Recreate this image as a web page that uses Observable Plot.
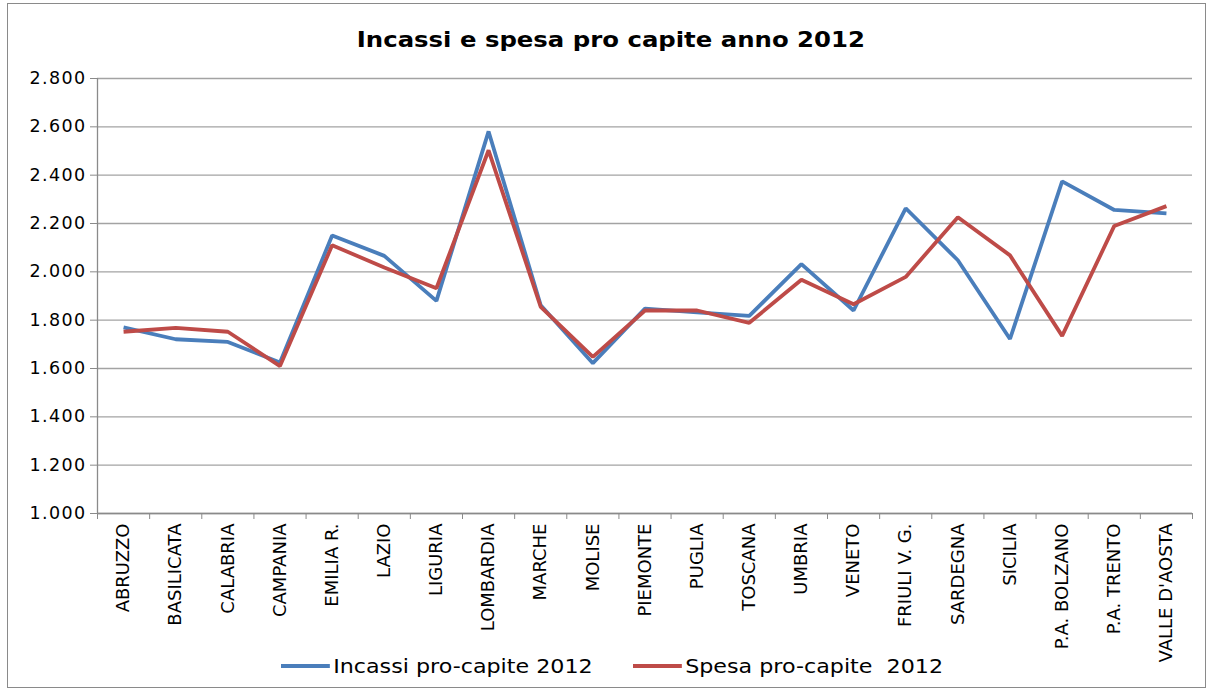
<!DOCTYPE html>
<html>
<head>
<meta charset="utf-8">
<script src="https://cdn.jsdelivr.net/npm/d3@7"></script>
<script src="https://cdn.jsdelivr.net/npm/@observablehq/plot@0.6"></script>
<style>
  html, body { margin: 0; padding: 0; background: #fff; }
  #wrap { position: relative; width: 1214px; height: 695px; font-family: "DejaVu Sans", Verdana, sans-serif; overflow: hidden; }
  #frame { position: absolute; left: 7px; top: 3px; width: 1199px; height: 685px; border: 1.5px solid #8a8a8a; box-sizing: border-box; }
  #title { position: absolute; left: 0; top: 28px; width: 1222px; text-align: center; font-weight: bold; font-size: 21px; line-height: 24px; color: #000; transform: scaleX(1.16); transform-origin: 612px 0; }
  #chart { position: absolute; left: 0; top: 60px; }
  .leg { position: absolute; top: 654px; display: flex; align-items: center; font-size: 20px; line-height: 24px; color: #000; white-space: pre; transform: scaleX(1.11); transform-origin: 0 0; }
  .leg span.sw { display: inline-block; width: 44px; height: 4px; margin-right: 3px; }
</style>
</head>
<body>
<div id="wrap">
  <div id="frame"></div>
  <div id="title">Incassi e spesa pro capite anno 2012</div>
  <div id="chart"></div>
  <div class="leg" style="left:281px"><span class="sw" style="background:#4a7ebb"></span>Incassi pro-capite 2012</div>
  <div class="leg" style="left:633px"><span class="sw" style="background:#be4b48"></span>Spesa pro-capite  2012</div>
</div>
<script>
const categories = ["ABRUZZO","BASILICATA","CALABRIA","CAMPANIA","EMILIA R.","LAZIO","LIGURIA","LOMBARDIA","MARCHE","MOLISE","PIEMONTE","PUGLIA","TOSCANA","UMBRIA","VENETO","FRIULI V. G.","SARDEGNA","SICILIA","P.A. BOLZANO","P.A. TRENTO","VALLE D'AOSTA"];
const incassi = [1770, 1721, 1710, 1625, 2150, 2066, 1880, 2581, 1862, 1622, 1848, 1832, 1818, 2032, 1840, 2263, 2048, 1722, 2374, 2256, 2242];
const spesa   = [1752, 1768, 1752, 1610, 2110, 2018, 1932, 2503, 1855, 1648, 1840, 1840, 1789, 1967, 1866, 1979, 2226, 2068, 1735, 2190, 2272];
const yTicks = [1000, 1200, 1400, 1600, 1800, 2000, 2200, 2400, 2600, 2800];
const seriesNames = ["Incassi pro-capite 2012", "Spesa pro-capite  2012"];
const seriesColors = ["#4a7ebb", "#be4b48"];

const itLocale = d3.formatLocale({decimal: ",", thousands: ".", grouping: [3], currency: ["€", ""]});
const fmt = itLocale.format(",");

const idx = categories.map((_, i) => i);
const xDomain = [-0.5, categories.length - 0.5];
const boundaries = d3.range(categories.length + 1).map(i => i - 0.5);

const data = [];
categories.forEach((c, i) => {
  data.push({i, cat: c, value: incassi[i], series: seriesNames[0]});
  data.push({i, cat: c, value: spesa[i], series: seriesNames[1]});
});

const chart = Plot.plot({
  width: 1214,
  height: 618,
  marginTop: 18,
  marginBottom: 165,
  marginLeft: 97,
  marginRight: 22,
  style: {fontFamily: "\"DejaVu Sans\", Verdana, sans-serif", color: "#000", background: "transparent", overflow: "visible"},
  x: {type: "linear", domain: xDomain, axis: null},
  y: {domain: [yTicks[0], yTicks[yTicks.length - 1]], axis: null},
  color: {domain: seriesNames, range: seriesColors},
  marks: [
    Plot.gridY(yTicks, {stroke: "#a3a3a3", strokeOpacity: 1, strokeWidth: 1.3}),
    Plot.ruleX([xDomain[0]], {stroke: "#8a8a8a", strokeWidth: 1.3}),
    Plot.ruleY([yTicks[0]], {stroke: "#8a8a8a", strokeWidth: 1.3}),
    Plot.axisY(yTicks, {tickFormat: fmt, tickSize: 7, tickPadding: 4, fontSize: 17.5, stroke: "#8a8a8a", label: null}),
    Plot.axisX(boundaries, {tickFormat: () => "", tickSize: 6, stroke: "#8a8a8a", label: null}),
    Plot.axisX(idx, {tickFormat: i => categories[i], tickSize: 0, tickPadding: 10, tickRotate: -90, fontSize: 18, label: null}),
    Plot.line(data, {x: "i", y: "value", z: "series", stroke: "series", strokeWidth: 3.8, strokeLinejoin: "miter", strokeLinecap: "butt"})
  ]
});
d3.select(chart).selectAll('g[aria-label="y-axis tick label"] text').attr("letter-spacing", "1.4px");
document.getElementById("chart").appendChild(chart);
</script>
</body>
</html>
